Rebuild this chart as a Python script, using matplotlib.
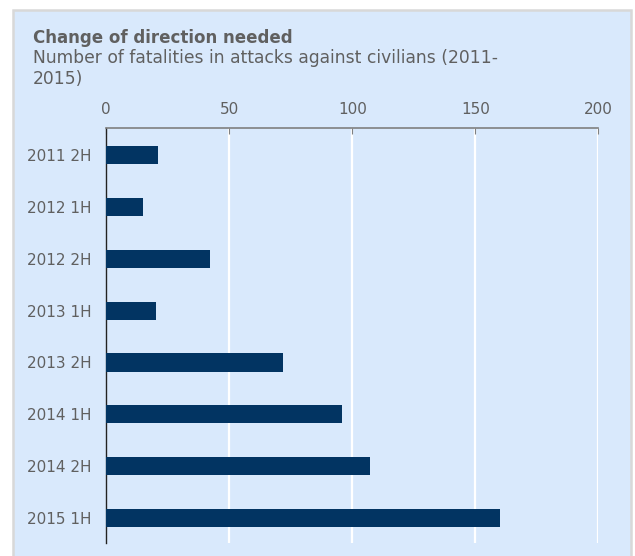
import matplotlib
matplotlib.use("Agg")
import matplotlib.pyplot as plt
from matplotlib.patches import Rectangle

categories = ["2011 2H", "2012 1H", "2012 2H", "2013 1H", "2013 2H", "2014 1H", "2014 2H", "2015 1H"]
fatalities = [21, 15, 42, 20, 72, 96, 107, 160]
xticks = [0, 50, 100, 150, 200]

title = "Change of direction needed"
subtitle = "Number of fatalities in attacks against civilians (2011-\n2015)"

W, H, DPI = 635, 556, 100
panel_color = "#d9e9fc"
bar_color = "#023462"
text_color = "#606060"

fig = plt.figure(figsize=(W / DPI, H / DPI), dpi=DPI)
fig.patch.set_facecolor("white")

# background panel
fig.patches.append(Rectangle((13 / W, -0.02), (631 - 13) / W, (H - 10) / H + 0.02,
                             transform=fig.transFigure, facecolor=panel_color,
                             edgecolor="#d8d8d8", linewidth=1.8, zorder=-10))

fig.text(33 / W, 1 - 38 / H, title, fontsize=12, fontweight="bold",
         color=text_color, ha="left", va="center")
fig.text(33 / W, 1 - 68.5 / H, subtitle, fontsize=12.3, color=text_color,
         ha="left", va="center", linespacing=1.17)

ax = fig.add_axes([106.3 / W, 1 - 543 / H, (598.3 - 106.3) / W, (543 - 128) / H])
ax.set_facecolor("none")
y = list(range(len(categories)))
ax.barh(y, fatalities, height=0.35, color=bar_color, zorder=3)
ax.set_xlim(0, 200)
ax.set_ylim(7.48, -0.52)
ax.set_yticks(y)
ax.set_yticklabels(categories)
ax.set_xticks(xticks)
ax.xaxis.tick_top()
ax.tick_params(axis="x", direction="in", length=4, color="#808080",
               labelsize=11, labelcolor=text_color, pad=8)
ax.tick_params(axis="y", length=0, labelsize=11, labelcolor=text_color, pad=10.5)
ax.grid(axis="x", color="white", linewidth=1.6, zorder=1)
for s in ["right", "bottom"]:
    ax.spines[s].set_visible(False)
ax.spines["top"].set_color("#808080")
ax.spines["top"].set_linewidth(1.2)
ax.spines["left"].set_color("#222222")
ax.spines["left"].set_linewidth(1.0)

fig.savefig("out.png", dpi=DPI, facecolor="white")
